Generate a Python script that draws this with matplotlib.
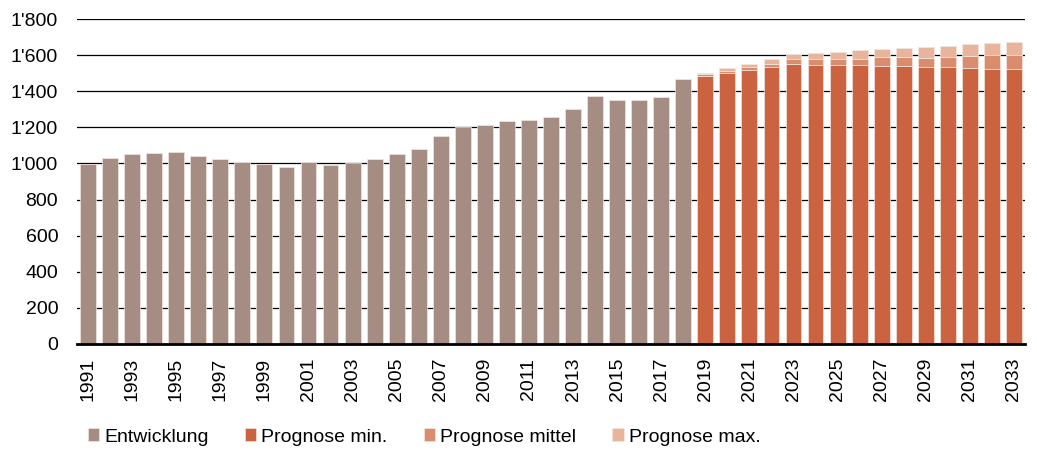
import matplotlib
matplotlib.use("Agg")
import matplotlib.pyplot as plt
from matplotlib.ticker import FuncFormatter
import numpy as np

plt.rcParams['font.family'] = ['Liberation Sans', 'DejaVu Sans']

years_hist = list(range(1991, 2019))
entwicklung = [996, 1031, 1050, 1056, 1063, 1044, 1026, 1007, 998, 981,
               1007, 990, 1000, 1024, 1052, 1078, 1150, 1200, 1213, 1235,
               1239, 1256, 1300, 1374, 1350, 1350, 1370, 1470]

years_prog = list(range(2019, 2034))
prog_min = [1483, 1499, 1516, 1532, 1549, 1548, 1543, 1543, 1537, 1537,
            1535, 1532, 1527, 1523, 1521]
prog_mittel = [1495, 1514, 1534, 1552, 1577, 1581, 1581, 1581, 1587, 1587,
               1586, 1591, 1594, 1598, 1602]
prog_max = [1503, 1527, 1552, 1580, 1607, 1613, 1620, 1628, 1633, 1641,
            1646, 1653, 1659, 1666, 1672]

labels = ["Entwicklung", "Prognose min.", "Prognose mittel", "Prognose max."]
colors = ["#A68D84", "#CB6240", "#DA8C6E", "#E8B49C"]

fig = plt.figure(figsize=(10.37, 4.54), dpi=100)
ax = fig.add_axes([77/1037, 1 - 344/454, (1025-77)/1037, (344-19)/454])

w = 0.72
ec = "#f3e6e0"
lw = 0.5
ax.bar(years_hist, entwicklung, width=w, color=colors[0], edgecolor=ec, linewidth=lw,
       label=labels[0], zorder=2)
pmin = np.array(prog_min)
pmid = np.array(prog_mittel)
pmax = np.array(prog_max)
ax.bar(years_prog, pmin, width=w, color=colors[1], edgecolor=ec, linewidth=lw,
       label=labels[1], zorder=2)
ax.bar(years_prog, pmid - pmin, bottom=pmin, width=w, color=colors[2], edgecolor=ec,
       linewidth=lw, label=labels[2], zorder=2)
ax.bar(years_prog, pmax - pmid, bottom=pmid, width=w, color=colors[3], edgecolor=ec,
       linewidth=lw, label=labels[3], zorder=2)

ax.set_xlim(1990.5, 2033.5)
ax.set_ylim(0, 1800)
ax.set_yticks(range(0, 1801, 200))
ax.yaxis.set_major_formatter(FuncFormatter(lambda v, p: f"{int(v):,}".replace(",", "'")))
ax.set_xticks(list(range(1991, 2034, 2)))
ax.set_xticklabels([str(y) for y in range(1991, 2034, 2)], rotation=90)
ax.tick_params(axis='both', length=0, labelsize=14, colors='black')
ax.tick_params(axis='x', pad=10)
ax.tick_params(axis='y', pad=13.5)
ax.grid(axis='y', color='black', linewidth=0.9, zorder=0)
ax.set_axisbelow(True)
for s in ['top', 'right', 'left']:
    ax.spines[s].set_visible(False)
ax.spines['bottom'].set_linewidth(2)
ax.spines['bottom'].set_zorder(3)

handles, labs = ax.get_legend_handles_labels()
fig.legend(handles, labs, loc='center left', bbox_to_anchor=(80/1037, 1 - 437/454),
           ncol=4, frameon=False, fontsize=14, handlelength=0.6, handleheight=0.6,
           handletextpad=0.25, columnspacing=1.85, borderaxespad=0)

fig.savefig("out.png", dpi=100)
